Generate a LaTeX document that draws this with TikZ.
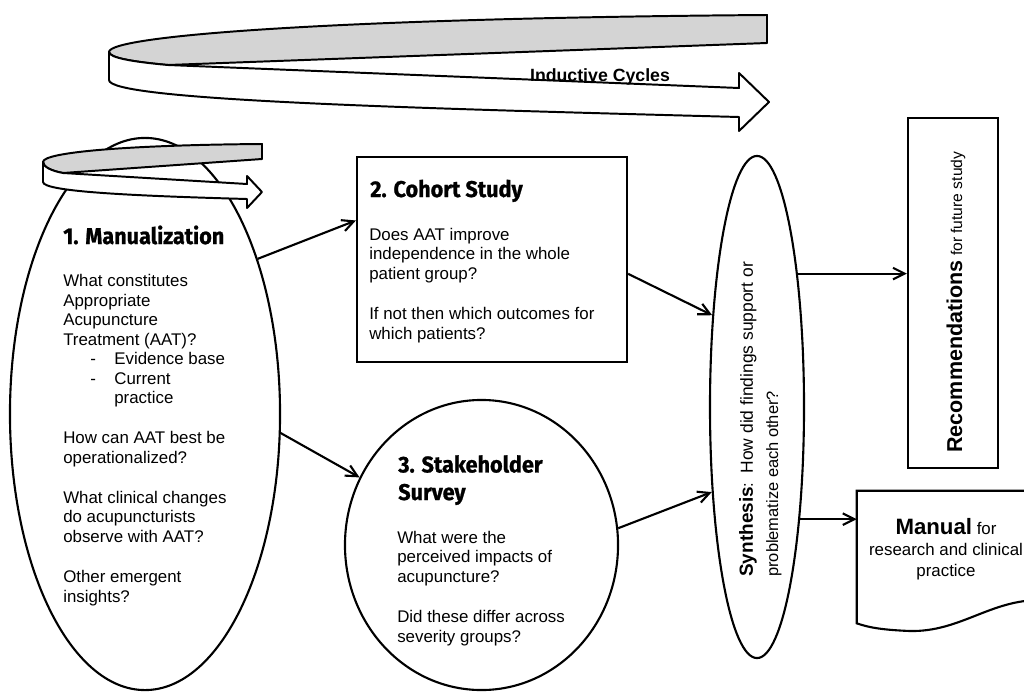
\documentclass[tikz,border=0pt]{standalone}
\usepackage{fontspec}
\setmainfont{Liberation Sans}
\newfontfamily\headfont{Fira Sans}[FakeStretch=0.95, BoldFeatures={FakeBold=1}]
\usetikzlibrary{positioning, arrows.meta, shapes.geometric}

\begin{document}
\begin{tikzpicture}[
    x=0.025cm, y=-0.025cm,
    % ---- shapes ----
    stage/.style={draw, line width=1.5pt, inner sep=0pt},
    oval/.style={stage, ellipse},
    box/.style={stage, rectangle},
    band/.style={draw, line width=1.4pt, line join=round},
    % ---- texts (placed at the baseline of their last line) ----
    head/.style={font=\headfont\bfseries\fontsize{16.2}{19.2}\selectfont,
        align=left, inner sep=0pt, anchor=base west},
    body/.style={font=\fontsize{12}{13.87}\selectfont,
        align=left, inner sep=0pt, anchor=base west},
    % ---- connectors ----
    arr/.style={line width=1.5pt, -{Straight Barb[length=2.9mm, width=2.9mm]}}
]
\useasboundingbox (0,0) rectangle (1024,691);
\clip (0,0) rectangle (1024,691);

% ---------- big ribbon ----------
\path[band, fill=black!17] (767,15) .. controls (350,18) and (109,35) .. (109,52)
    .. controls (109,58) and (135,62) .. (168,65) -- (767,43) -- cycle;
\path[band, fill=white] (109,52) .. controls (109,58) and (135,62) .. (168,65)
    -- (739,88) -- (739,73) -- (769,102) -- (739,131) -- (739,117)
    .. controls (400,108) and (109,100) .. (109,80) -- cycle;
\node[font=\bfseries\fontsize{12.6}{15}\selectfont, inner sep=0pt, anchor=base]
    (cycles) at (600,81) {Inductive Cycles};

% ---------- stages ----------
\node[oval, minimum width=6.75cm, minimum height=13.8cm] (man) at (145,414) {};
\node[box, minimum width=6.75cm, minimum height=5.125cm] (cohort) at (492,259.5) {};
\node[oval, minimum width=6.825cm, minimum height=7.25cm] (stake) at (481.5,545) {};
\node[oval, minimum width=2.35cm, minimum height=12.55cm] (synth) at (757,407) {};
\node[box, minimum width=2.25cm, minimum height=8.75cm] (rec) at (953,293) {};
\node[inner sep=0pt, minimum width=4.575cm, minimum height=3.3cm] (manual) at (948.5,557) {};
\draw[stage] (manual.north west) -- (manual.north east) -- (1040,600)
    .. controls (990,600) and (960,632) .. (910,631)
    .. controls (885,630) and (870,628) .. (manual.south west) -- cycle;

% ---------- small ribbon ----------
\path[band, fill=black!17] (262,144) .. controls (130,145) and (43,152) .. (43,162)
    .. controls (43,167) and (52,171) .. (63,173) -- (262,159) -- cycle;
\path[band, fill=white] (43,162) .. controls (43,167) and (52,171) .. (63,173)
    -- (247,184) -- (247,176) -- (262,192) -- (247,208) -- (247,199)
    .. controls (140,196) and (43,192) .. (43,182) -- cycle;

% ---------- texts ----------
\node[head] (manhead) at (63,244) {1. Manualization};
\node[body] (mantext) at (63,602) {What constitutes\\Appropriate\\Acupuncture\\Treatment (AAT)?\\
    \hspace*{19.2pt}\makebox[17.1pt][l]{-}Evidence base\\
    \hspace*{19.2pt}\makebox[17.1pt][l]{-}Current\\
    \hspace*{36.3pt}practice\\[14.6pt]
    How can AAT best be\\operationalized?\\[14.6pt]
    What clinical changes\\do acupuncturists\\observe with AAT?\\[14.6pt]
    Other emergent\\insights?};

\node[head] (cohorthead) at (370,197) {2. Cohort Study};
\node[body] (cohorttext) at (369,339) {Does AAT improve\\independence in the whole\\patient group?\\[14.6pt]
    If not then which outcomes for\\which patients?};

\node[head, font=\headfont\bfseries\fontsize{16.2}{19.6}\selectfont] (stakehead) at (398,500) {3. Stakeholder\\Survey};
\node[body] (staketext) at (397,642) {What were the\\perceived impacts of\\acupuncture?\\[14.6pt]
    Did these differ across\\severity groups?};

\node[rotate=90, anchor=base west, inner sep=0pt, align=left,
    font=\fontsize{11.7}{17.8}\selectfont] (synthtext) at (778,577)
    {{\fontsize{13.5}{17.8}\selectfont\bfseries Synthesis}:\ \ {\fontsize{12.4}{17.8}\selectfont How did findings support or}\\problematize each other?};

\node[rotate=90, anchor=base west, inner sep=0pt, font=\fontsize{11.1}{13.87}\selectfont]
    (rectext) at (962,453) {{\fontsize{15.3}{18}\selectfont\bfseries Recommendations} for future study};

\node[anchor=base, inner sep=0pt, align=center, font=\fontsize{12}{14.6}\selectfont]
    (manualtext) at (946,576) {{\fontsize{15.8}{14.6}\selectfont\bfseries Manual} for\\research and clinical\\practice};

% ---------- connectors ----------
\draw[arr] (man.54) -- (cohort.164);
\draw[arr] (man.-8) -- (stake.151);
\draw[arr] (cohort.-6) -- (synth.116);
\draw[arr] (stake.7) -- (synth.242);
\draw[arr] (synth.73) -- (synth.73 -| rec.west);
\draw[arr] (synth.-69) -- (synth.-69 -| manual.west);

\end{tikzpicture}
\end{document}
